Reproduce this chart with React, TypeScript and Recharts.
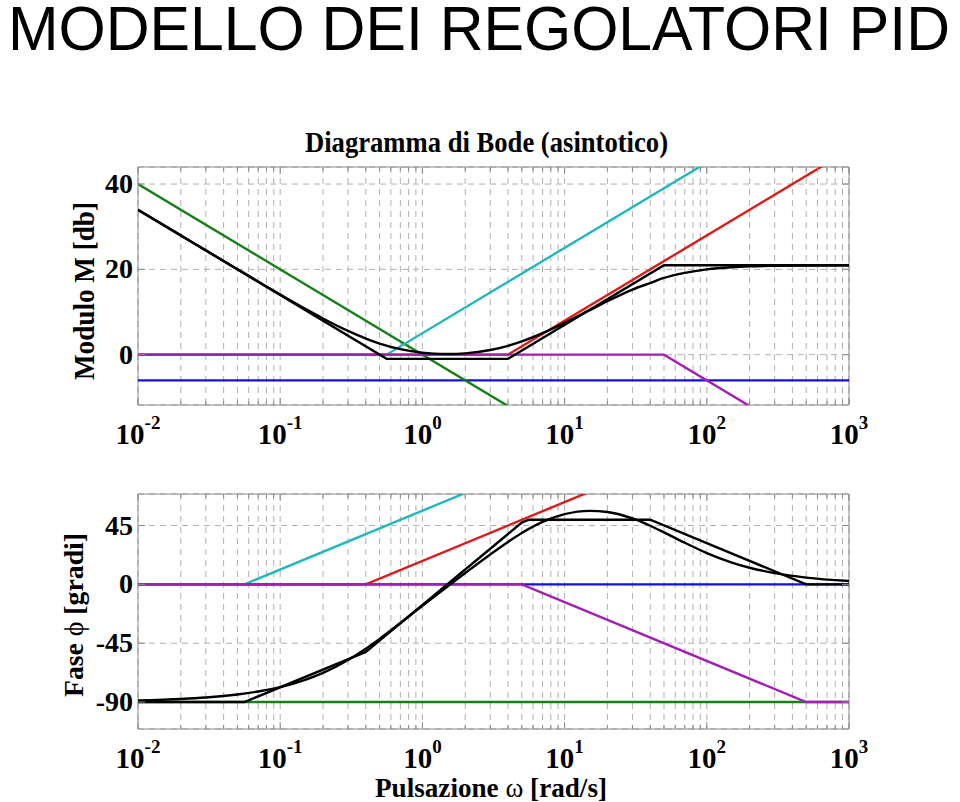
import React from "react";
import { LineChart, Line, XAxis, YAxis, CartesianGrid, ReferenceArea } from "recharts";

// frequency ticks: decades x mantissas
const decades = [-2, -1, 0, 1, 2, 3];
const mantissas = [1, 2, 3, 4, 5, 6, 7, 8, 9];
const magTicks = [0, 20, 40];
const phaseTicks = [-90, -45, 0, 45];

// exact curve of the PID (black, smooth)
const wExact = [0.01, 0.02, 0.03, 0.05, 0.07, 0.1, 0.15, 0.2, 0.3, 0.4, 0.5, 0.7, 1, 1.2, 1.5, 2, 3, 4, 5, 7, 10, 15, 20, 30, 40, 50, 70, 100, 150, 200, 300, 500, 1000];
const magExact = [33.98, 27.97, 24.45, 20.04, 17.15, 14.12, 10.77, 8.49, 5.56, 3.77, 2.61, 1.3, 0.46, 0.25, 0.15, 0.31, 1.09, 2.08, 3.11, 5.05, 7.46, 10.43, 12.53, 15.26, 16.8, 17.98, 19.18, 20.0, 20.5, 20.7, 20.84, 20.92, 20.95];
const phaseExact = [-88.85, -87.69, -86.54, -84.24, -81.95, -78.56, -73.02, -67.72, -57.87, -49.21, -41.69, -29.54, -16.36, -9.7, -1.63, 8.64, 22.87, 32.46, 39.24, 47.72, 53.69, 56.23, 55.29, 50.38, 44.83, 39.79, 31.81, 23.96, 16.69, 12.73, 8.59, 5.19, 2.6];

// asymptotic magnitudes [dB]
const blueMagW = [0.01, 1000];
const blueMag = [-6.02, -6.02];
const greenMagW = [0.01, 1000];
const greenMag = [40, -60];
const cyanMagW = [0.01, 0.56, 1000];
const cyanMag = [0, 0, 65.04];
const redMagW = [0.01, 4, 1000];
const redMag = [0, 0, 47.96];
const magentaMagW = [0.01, 50, 1000];
const magentaMag = [0, 0, -26.02];
const blackMagW = [0.01, 0.56, 4, 50, 1000];
const blackMag = [33.98, -0.98, -0.98, 20.96, 20.96];

// asymptotic phases [deg]
const bluePhW = [0.01, 1000];
const bluePh = [0, 0];
const greenPhW = [0.01, 1000];
const greenPh = [-90, -90];
const cyanPhW = [0.01, 0.056, 5.6, 1000];
const cyanPh = [0, 0, 90, 90];
const redPhW = [0.01, 0.4, 40, 1000];
const redPh = [0, 0, 90, 90];
const magentaPhW = [0.01, 5, 500, 1000];
const magentaPh = [0, 0, -90, -90];
const blackPhW = [0.01, 0.056, 0.4, 5, 5.6, 40, 500, 1000];
const blackPh = [-90, -90, -51.6, 47.2, 49.4, 49.4, 0, 0];

const zip = (ws: number[], vs: number[]) => ws.map((w, i) => ({ w, v: vs[i] }));

const freqTicks = decades
  .flatMap((d) => mantissas.map((m) => Number((m * Math.pow(10, d)).toPrecision(3))))
  .filter((v) => v <= 1000);

const serif = "'Liberation Serif', 'Times New Roman', serif";
const C = {
  blue: "#1414cc",
  green: "#158015",
  cyan: "#22b8b8",
  red: "#dd1a1a",
  magenta: "#a21eb4",
  black: "#000000",
  grid: "#b0b0b0",
  box: "#8a8a8a",
};

function LogTick(props: any) {
  const { x, y, payload, plotH } = props;
  const v = payload.value;
  const e = Math.round(Math.log10(v));
  const major = Math.abs(v / Math.pow(10, e) - 1) < 1e-6;
  const len = major ? 7 : 4;
  return (
    <g>
      <line x1={x} x2={x} y1={y} y2={y - len} stroke={C.box} />
      <line x1={x} x2={x} y1={y - plotH} y2={y - plotH + len} stroke={C.box} />
      {major && (
        <text x={x} y={y + 39} textAnchor="middle" fontFamily={serif} fontWeight="bold" fontSize={29} fill="#000">
          10
          <tspan dy={-15} fontSize={19}>{e}</tspan>
        </text>
      )}
    </g>
  );
}

function ValTick(props: any) {
  const { x, y, payload, plotW } = props;
  return (
    <g>
      <line x1={x} x2={x + 7} y1={y} y2={y} stroke={C.box} />
      <line x1={x + plotW} x2={x + plotW - 7} y1={y} y2={y} stroke={C.box} />
      <text x={x - 5} y={y + 9} textAnchor="end" fontFamily={serif} fontWeight="bold" fontSize={28} fill="#000">
        {payload.value}
      </text>
    </g>
  );
}

function series(list: [any[], string][]) {
  return list.map(([d, color], i) => (
    <Line
      key={i}
      data={d}
      dataKey="v"
      type={i === list.length - 1 ? "monotone" : "linear"}
      stroke={color}
      strokeWidth={2.4}
      dot={false}
      activeDot={false}
      isAnimationActive={false}
    />
  ));
}

const PLOT_W = 711;

export default function App() {
  const magDomain: [number, number] = [-11.8, 44];
  const phDomain: [number, number] = [-110.6, 69.1];
  return (
    <div style={{ position: "absolute", left: 0, top: 0, width: 960, height: 802, background: "#fff" }}>
      <LineChart width={960} height={470} margin={{ top: 167, right: 111, bottom: 5, left: 0 }} style={{ position: "absolute", left: 0, top: 0 }}>
        <CartesianGrid stroke={C.grid} strokeDasharray="6 5" />
        <XAxis dataKey="w" type="number" scale="log" domain={[0.01, 1000]} allowDataOverflow ticks={freqTicks} interval={0} height={60}
          tickSize={0} tickMargin={0} axisLine={false} tick={(p: any) => <LogTick {...p} plotH={238} />} />
        <YAxis type="number" domain={magDomain} allowDataOverflow ticks={magTicks} interval={0} width={138}
          tickSize={0} tickMargin={0} axisLine={false} tick={(p: any) => <ValTick {...p} plotW={PLOT_W} />} />
        <ReferenceArea x1={0.01} x2={1000} y1={magDomain[0]} y2={magDomain[1]} fill="none" stroke={C.box} ifOverflow="visible" />
        {series([
          [zip(blueMagW, blueMag), C.blue],
          [zip(greenMagW, greenMag), C.green],
          [zip(cyanMagW, cyanMag), C.cyan],
          [zip(redMagW, redMag), C.red],
          [zip(magentaMagW, magentaMag), C.magenta],
          [zip(blackMagW, blackMag), C.black],
          [zip(wExact, magExact), C.black],
        ])}
      </LineChart>

      <LineChart width={960} height={362} margin={{ top: 54, right: 111, bottom: 13, left: 0 }} style={{ position: "absolute", left: 0, top: 440 }}>
        <CartesianGrid stroke={C.grid} strokeDasharray="6 5" />
        <XAxis dataKey="w" type="number" scale="log" domain={[0.01, 1000]} allowDataOverflow ticks={freqTicks} interval={0} height={60}
          tickSize={0} tickMargin={0} axisLine={false} tick={(p: any) => <LogTick {...p} plotH={235} />} />
        <YAxis type="number" domain={phDomain} allowDataOverflow ticks={phaseTicks} interval={0} width={138}
          tickSize={0} tickMargin={0} axisLine={false} tick={(p: any) => <ValTick {...p} plotW={PLOT_W} />} />
        <ReferenceArea x1={0.01} x2={1000} y1={phDomain[0]} y2={phDomain[1]} fill="none" stroke={C.box} ifOverflow="visible" />
        {series([
          [zip(bluePhW, bluePh), C.blue],
          [zip(greenPhW, greenPh), C.green],
          [zip(cyanPhW, cyanPh), C.cyan],
          [zip(redPhW, redPh), C.red],
          [zip(magentaPhW, magentaPh), C.magenta],
          [zip(blackPhW, blackPh), C.black],
          [zip(wExact, phaseExact), C.black],
        ])}
      </LineChart>

      <svg width={960} height={802} style={{ position: "absolute", left: 0, top: 0, pointerEvents: "none" }}>
        <text x={8} y={0} transform="translate(0, 50) scale(1, 1.15)" fontFamily="'Liberation Sans', Arial, sans-serif" fontSize={55} textLength={942} lengthAdjust="spacingAndGlyphs" fill="#000">
          MODELLO DEI REGOLATORI PID
        </text>
        <text x={305} y={152} fontFamily={serif} fontWeight="bold" fontSize={29} textLength={363} lengthAdjust="spacingAndGlyphs" fill="#000">
          Diagramma di Bode (asintotico)
        </text>
        <text transform="translate(94, 291) rotate(-90)" textAnchor="middle" fontFamily={serif} fontWeight="bold" fontSize={29} textLength={178} lengthAdjust="spacingAndGlyphs" fill="#000">
          Modulo M [db]
        </text>
        <text transform="translate(83, 615) rotate(-90)" textAnchor="middle" fontFamily={serif} fontWeight="bold" fontSize={27} textLength={164} lengthAdjust="spacingAndGlyphs" fill="#000">
          Fase <tspan fontWeight="normal">ϕ</tspan> [gradi]
        </text>
        <text x={375} y={797} fontFamily={serif} fontWeight="bold" fontSize={27} textLength={232} lengthAdjust="spacingAndGlyphs" fill="#000">
          Pulsazione <tspan fontWeight="normal">ω</tspan> [rad/s]
        </text>
      </svg>
    </div>
  );
}
